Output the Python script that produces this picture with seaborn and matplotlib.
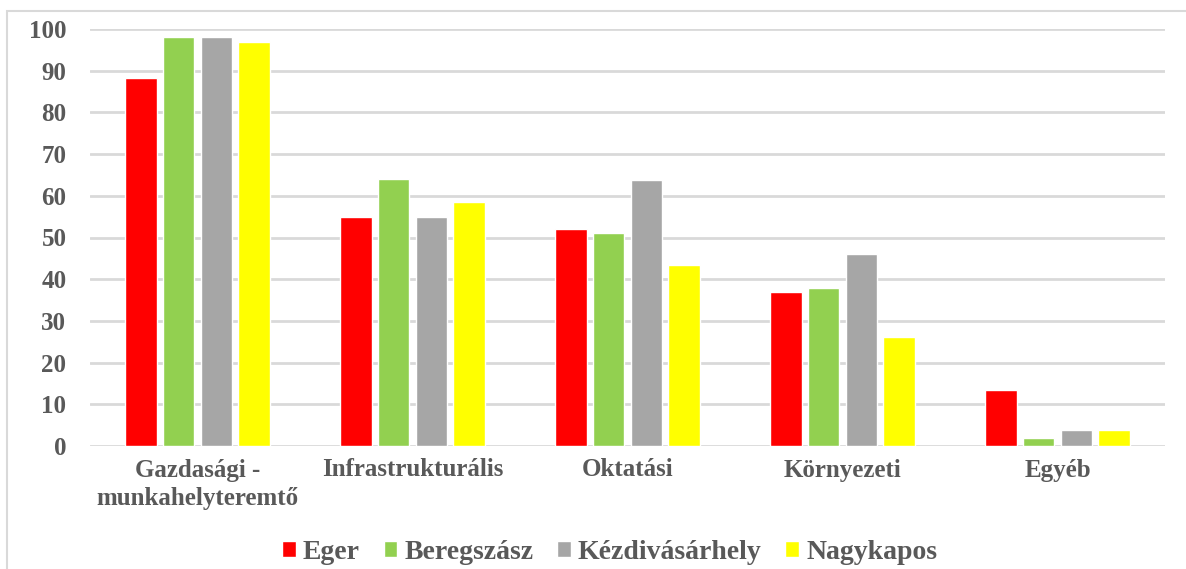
import pandas as pd
import numpy as np
import matplotlib
matplotlib.use("Agg")
import matplotlib.pyplot as plt
from matplotlib.patches import Rectangle
import seaborn as sns

# data
categories = ["Gazdasági -\nmunkahelyteremtő", "Infrastrukturális", "Oktatási", "Környezeti", "Egyéb"]
towns = ["Eger", "Beregszász", "Kézdivásárhely", "Nagykapos"]
eger = [88.2, 55.0, 52.0, 37.0, 13.4]
beregszasz = [98.0, 64.0, 51.0, 38.0, 1.9]
kezdivasarhely = [98.0, 54.8, 63.7, 46.0, 3.8]
nagykapos = [97.0, 58.5, 43.4, 26.2, 3.8]
colors = ["#FF0000", "#92D050", "#A6A6A6", "#FFFF00"]
yticks = list(range(0, 101, 10))

rows = []
for town, vals in zip(towns, [eger, beregszasz, kezdivasarhely, nagykapos]):
    for cat, v in zip(categories, vals):
        rows.append({"Kategória": cat, "Város": town, "Érték": v})
data = pd.DataFrame(rows)

sns.set_style("white")
plt.rcParams["font.family"] = ["Liberation Serif", "DejaVu Serif"]
plt.rcParams["font.weight"] = "bold"
txt = "#595959"

fig = plt.figure(figsize=(11.86, 5.69), dpi=100)
ax = fig.add_axes([90 / 1186, 1 - 446 / 569, (1165 - 90) / 1186, (446 - 29) / 569])

sns.barplot(data=data, x="Kategória", y="Érték", hue="Város", order=categories,
            hue_order=towns, palette=colors, width=0.7, gap=0.17, saturation=1,
            ax=ax, zorder=3)

ax.set_ylim(0, 100)
ax.set_yticks(yticks)
ax.yaxis.grid(True, color="#D9D9D9", linewidth=2, zorder=0)
ax.set_axisbelow(True)
for s in ax.spines.values():
    s.set_visible(False)
ax.set_xlabel("")
ax.set_ylabel("")
ax.tick_params(axis="y", length=0, pad=17, labelsize=18, labelcolor=txt)
ax.tick_params(axis="x", length=0, pad=9, labelsize=18, labelcolor=txt)
for lab in ax.get_xticklabels() + ax.get_yticklabels():
    lab.set_fontweight("bold")
    lab.set_linespacing(1.3)

handles, labels = ax.get_legend_handles_labels()
ax.get_legend().remove()
leg = fig.legend(handles, labels, loc="center", bbox_to_anchor=(0.514, 0.029), ncol=4,
                 frameon=False, fontsize=20, handlelength=0.5, handleheight=0.5,
                 handletextpad=0.25, columnspacing=0.85)
for t in leg.get_texts():
    t.set_color(txt)
    t.set_fontweight("bold")

# outer chart frame (light grey), cut off at right and bottom like the reference
fig.patches.append(Rectangle((7 / 1186, -0.1), 1.2, 1.1 - 11 / 569, transform=fig.transFigure,
                             fill=False, edgecolor="#D9D9D9", linewidth=1.5))

fig.savefig("out.png", dpi=100)
